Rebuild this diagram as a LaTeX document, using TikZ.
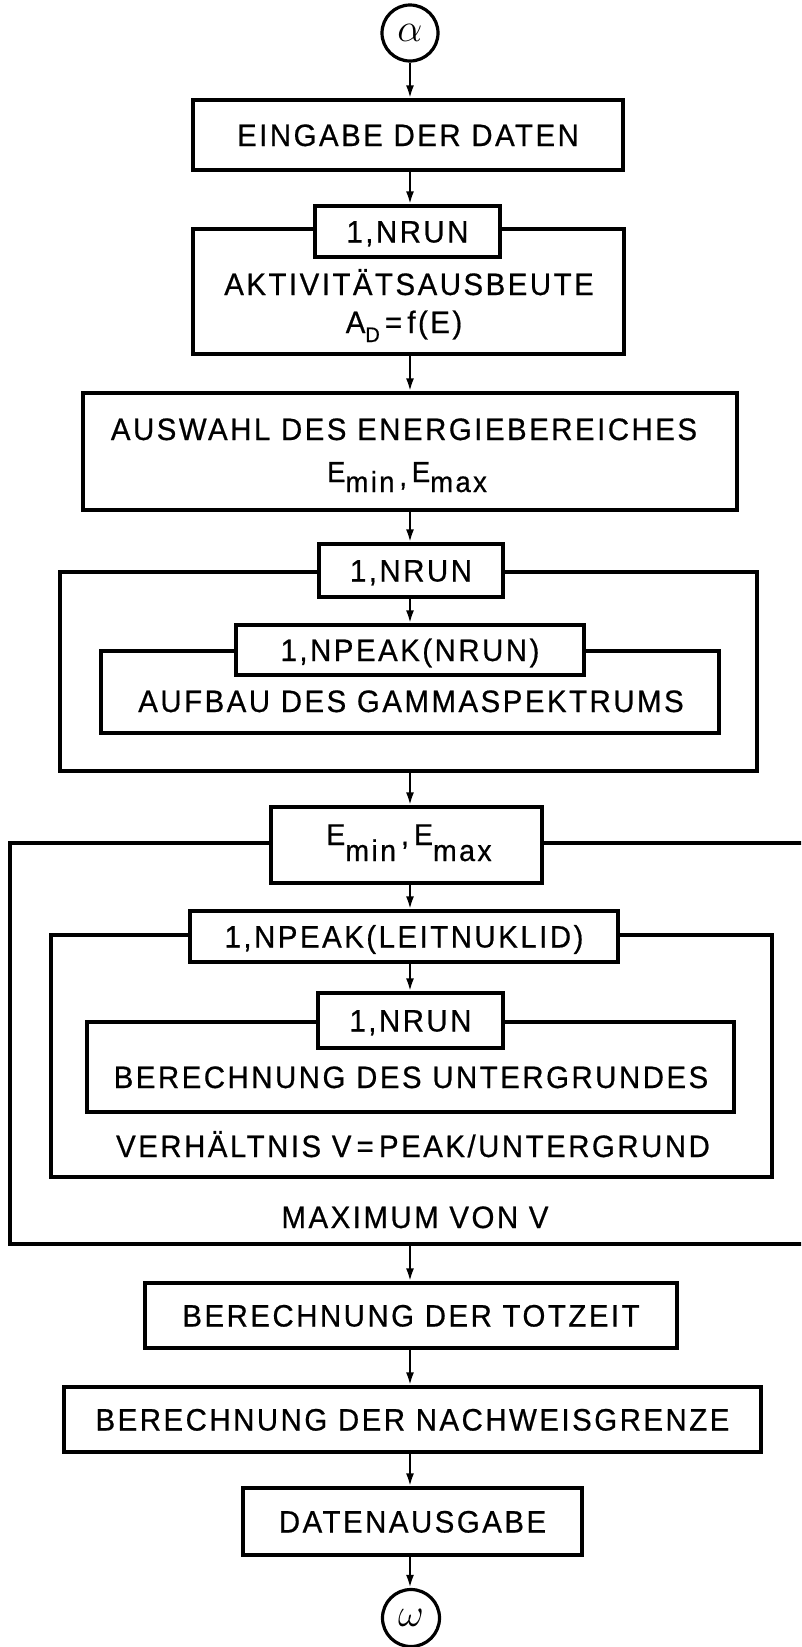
\documentclass[tikz,border=0pt]{standalone}
\usepackage{fontspec}
\setmainfont{Liberation Sans}[FakeStretch=0.95,LetterSpace=8,FakeBold=0.6]
\usepackage{graphicx}
\usetikzlibrary{arrows.meta}
\begin{document}
\begin{tikzpicture}[x=1pt,y=-1pt,
  font=\fontsize{31}{36}\selectfont,
  box/.style={draw, line width=3.2pt, inner sep=0pt, text height=22pt, text depth=0pt, anchor=center},
  hdr/.style={box, fill=white},
  lbl/.style={inner sep=0pt, anchor=base},
  arr/.style={line width=2.4pt, -{Latex[length=13pt,width=8pt]}},
  circ/.style={draw, circle, line width=3.2pt, minimum size=56pt, inner sep=0pt}]
\useasboundingbox (0,0) rectangle (801,1647);
\begin{scope}
\clip (0,0) rectangle (801,1647);
\coordinate (axis) at (410,0);
% start
\node[circ] (alpha) at (410,33) {\scalebox{1.6}{$\alpha$}};
\node[box, minimum width=430pt, minimum height=70pt] (eing) at (408,135) {EINGABE DER DATEN};
% loop activity
\node[box, minimum width=431pt, minimum height=125pt] (akt) at (408.5,291.5) {};
\node[hdr, minimum width=185pt, minimum height=51pt] (h1) at (407.5,231.5) {1,NRUN};
\node[lbl] (tAkt) at (409,295) {AKTIVITÄTSAUSBEUTE};
\node[lbl] (tAD) at (404,333) {A\raisebox{-9pt}{\fontsize{21}{21}\selectfont D}\,=\,f(E)};
% energy range
\node[box, minimum width=654pt, minimum height=117pt] (ausw) at (410,451.5) {};
\node[lbl] (tAus1) at (404,440) {AUSWAHL DES ENERGIEBEREICHES};
\node[lbl] (tAus2) at (407,482) {\fontsize{29}{30}\selectfont E\raisebox{-10pt}{min}\,\raisebox{-4pt}{,}\,E\raisebox{-10pt}{max}};
% loop spectrum
\node[box, minimum width=697pt, minimum height=199pt] (loopA) at (408.5,671.5) {};
\node[box, minimum width=618pt, minimum height=82pt] (aufb) at (410,692) {};
\node[hdr, minimum width=184pt, minimum height=53pt] (h2) at (411,570.5) {1,NRUN};
\node[hdr, minimum width=348pt, minimum height=50pt] (h3) at (410,650) {1,NPEAK(NRUN)};
\node[lbl] (tAuf) at (411,712) {AUFBAU DES GAMMASPEKTRUMS};
% loop energy
\node[box, minimum width=800pt, minimum height=401pt] (loopB) at (410,1043.5) {};
\node[box, minimum width=721pt, minimum height=242pt] (loopC) at (411.5,1056) {};
\node[box, minimum width=647pt, minimum height=90pt] (unt) at (410.5,1067) {};
\node[hdr, minimum width=271pt, minimum height=76pt] (hE) at (406.5,845) {};
\node[lbl] (tE) at (409,845) {\fontsize{30}{30}\selectfont E\raisebox{-16pt}{min}\,\raisebox{0pt}{,}\,E\raisebox{-16pt}{max}};
\node[hdr, minimum width=428pt, minimum height=51pt] (hL) at (404,936.5) {1,NPEAK(LEITNUKLID)};
\node[hdr, minimum width=185pt, minimum height=55pt] (h4) at (410.5,1020.5) {1,NRUN};
\node[lbl] (tUnt) at (411,1088) {BERECHNUNG DES UNTERGRUNDES};
\node[lbl] (tVer) at (413,1157) {VERHÄLTNIS V\,=\,PEAK/UNTERGRUND};
\node[lbl] (tMax) at (415,1228) {MAXIMUM VON V};
% final steps
\node[box, minimum width=532pt, minimum height=65pt] (tot) at (411,1315.5) {BERECHNUNG DER TOTZEIT};
\node[box, minimum width=697pt, minimum height=65pt] (nach) at (412.5,1419.5) {BERECHNUNG DER NACHWEISGRENZE};
\node[box, minimum width=339pt, minimum height=67pt] (daten) at (412.5,1521.5) {DATENAUSGABE};
\node[circ, minimum size=57pt] (omega) at (411,1618) {\scalebox{1.6}{$\omega$}};
% connectors
\draw[arr] (alpha.south -| axis) -- (eing.north -| axis);
\draw[arr] (eing.south -| axis) -- (h1.north -| axis);
\draw[arr] (akt.south -| axis) -- (ausw.north -| axis);
\draw[arr] (ausw.south -| axis) -- (h2.north -| axis);
\draw[arr] (h2.south -| axis) -- (h3.north -| axis);
\draw[arr] (loopA.south -| axis) -- (hE.north -| axis);
\draw[arr] (hE.south -| axis) -- (hL.north -| axis);
\draw[arr] (hL.south -| axis) -- (h4.north -| axis);
\draw[arr] (loopB.south -| axis) -- (tot.north -| axis);
\draw[arr] (tot.south -| axis) -- (nach.north -| axis);
\draw[arr] (nach.south -| axis) -- (daten.north -| axis);
\draw[arr] (daten.south -| axis) -- (omega.north -| axis);
\end{scope}
\end{tikzpicture}
\end{document}
